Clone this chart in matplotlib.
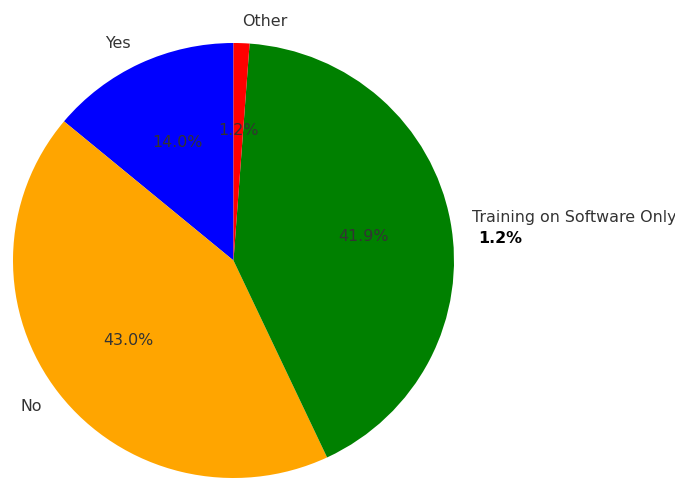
import numpy as np
import matplotlib.pyplot as plt

labels = ['Yes', 'No', 'Training on Software Only', 'Other']
counts = [12, 37, 36, 1]
colors = ['blue', 'orange', 'green', 'red']
note_text = '1.2%'

fig = plt.figure(figsize=(6.75, 4.8), dpi=100)
# pie box in pixels: x 13..454, y 43..478 from the top
W, H = 675, 480
x0, x1, y0, y1 = 13, 454, 43, 478
ax = fig.add_axes([x0 / W, (H - y1) / H, (x1 - x0) / W, (y1 - y0) / H])

ax.pie(counts, labels=labels, colors=colors, autopct='%1.1f%%',
       startangle=90, textprops={'color': '#333333', 'fontsize': 11.4})
ax.set_xlim(-1, 1)
ax.set_ylim(-1, 1)
ax.set_aspect('auto')

ax.text(1.11, 0.1, note_text, ha='left', va='center',
        fontsize=11.4, fontweight='bold', color='black')

fig.savefig('out.png', dpi=100)
